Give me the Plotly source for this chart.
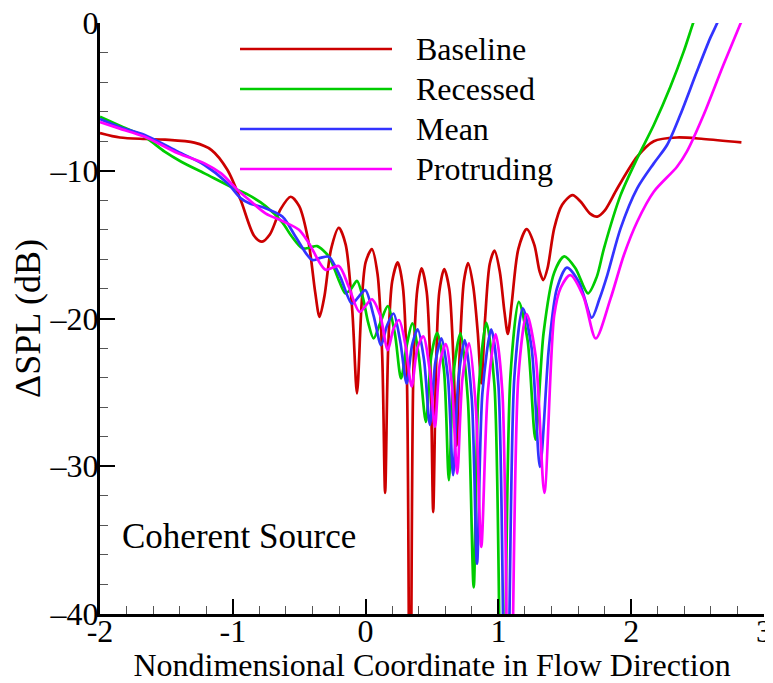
import plotly.graph_objects as go

# ---- data ----
baseline_x = [-2.0, -1.85, -1.66, -1.51, -1.29, -1.16, -1.04, -0.94, -0.84, -0.78, -0.72, -0.64, -0.564, -0.5, -0.43, -0.38, -0.347, -0.31, -0.26, -0.202, -0.15, -0.1, -0.065, -0.03, 0.0, 0.047, 0.09, 0.125, 0.147, 0.17, 0.2, 0.242, 0.28, 0.31, 0.335, 0.36, 0.39, 0.422, 0.46, 0.49, 0.509, 0.53, 0.555, 0.592, 0.63, 0.66, 0.685, 0.71, 0.74, 0.772, 0.81, 0.845, 0.871, 0.9, 0.935, 0.971, 1.01, 1.045, 1.071, 1.1, 1.15, 1.213, 1.27, 1.31, 1.338, 1.37, 1.42, 1.48, 1.558, 1.62, 1.69, 1.745, 1.80, 1.895, 2.045, 2.17, 2.345, 2.545, 2.83]
baseline_y = [-7.45, -7.75, -7.85, -7.9, -8.1, -8.6, -9.95, -12.0, -14.4, -14.8, -14.3, -12.6, -11.76, -12.4, -14.8, -18.2, -19.9, -18.5, -15.3, -13.86, -15.0, -19.5, -25.07, -19.0, -16.2, -15.3, -17.0, -22.5, -31.8, -22.0, -17.5, -16.2, -17.8, -23.5, -55.0, -23.5, -18.0, -16.6, -18.2, -24.0, -33.1, -23.5, -18.2, -16.65, -18.0, -22.5, -28.6, -22.0, -17.5, -16.25, -17.8, -21.0, -24.4, -20.0, -16.3, -15.4, -16.8, -19.5, -21.05, -19.0, -15.3, -13.95, -15.0, -16.8, -17.4, -16.6, -13.9, -12.3, -11.65, -12.1, -12.9, -13.1, -12.7, -11.2, -9.05, -8.0, -7.75, -7.85, -8.08]

recessed_x = [-2.0, -1.85, -1.663, -1.513, -1.388, -1.213, -0.989, -0.889, -0.751, -0.627, -0.56, -0.477, -0.42, -0.365, -0.277, -0.202, -0.152, -0.11, -0.065, -0.02, 0.02, 0.06, 0.11, 0.167, 0.22, 0.267, 0.31, 0.352, 0.4, 0.454, 0.495, 0.539, 0.59, 0.627, 0.665, 0.714, 0.77, 0.814, 0.85, 0.909, 0.97, 1.03, 1.09, 1.154, 1.22, 1.279, 1.34, 1.42, 1.496, 1.58, 1.675, 1.74, 1.795, 1.92, 2.045, 2.17, 2.295, 2.395, 2.47, 2.5]
recessed_y = [-6.35, -6.95, -7.7, -8.71, -9.39, -10.18, -11.2, -11.6, -12.4, -13.5, -14.4, -15.25, -15.2, -15.1, -15.8, -17.4, -18.3, -18.0, -17.45, -18.6, -20.3, -21.35, -20.3, -19.16, -21.0, -24.06, -21.8, -20.33, -22.5, -27.0, -22.5, -20.97, -23.5, -30.94, -23.5, -21.0, -25.5, -38.2, -25.0, -20.3, -24.5, -55.0, -24.0, -18.87, -21.5, -28.2, -21.0, -16.9, -15.8, -16.6, -18.3, -17.2, -15.25, -11.65, -9.16, -6.9, -4.31, -1.94, 0.09, 0.8]

mean_x = [-2.0, -1.85, -1.663, -1.413, -1.213, -1.039, -0.939, -0.876, -0.764, -0.627, -0.527, -0.44, -0.40, -0.34, -0.277, -0.19, -0.103, -0.05, -0.002, 0.06, 0.117, 0.16, 0.21, 0.26, 0.309, 0.35, 0.392, 0.44, 0.484, 0.525, 0.571, 0.62, 0.659, 0.70, 0.747, 0.80, 0.839, 0.88, 0.946, 1.0, 1.059, 1.12, 1.184, 1.25, 1.313, 1.38, 1.44, 1.516, 1.61, 1.703, 1.76, 1.82, 1.92, 2.045, 2.17, 2.27, 2.369, 2.494, 2.594, 2.652, 2.68]
mean_y = [-6.5, -7.05, -7.58, -8.71, -9.61, -10.85, -11.87, -12.2, -12.5, -13.1, -14.47, -15.7, -16.05, -15.9, -15.82, -17.2, -19.0, -18.5, -18.08, -19.8, -21.8, -20.5, -19.66, -21.5, -24.4, -21.8, -20.74, -22.8, -27.2, -23.0, -21.35, -24.0, -30.6, -24.0, -21.46, -25.5, -36.6, -25.0, -20.74, -24.5, -55.0, -24.0, -19.32, -22.0, -30.04, -22.0, -18.0, -16.56, -17.6, -19.95, -18.7, -17.06, -13.9, -11.19, -9.5, -8.26, -6.23, -3.3, -1.04, 0.09, 0.8]

protruding_x = [-2.0, -1.85, -1.663, -1.413, -1.213, -1.088, -0.964, -0.876, -0.751, -0.627, -0.502, -0.427, -0.302, -0.202, -0.127, -0.045, 0.047, 0.11, 0.167, 0.21, 0.252, 0.30, 0.347, 0.39, 0.434, 0.48, 0.522, 0.56, 0.604, 0.65, 0.69, 0.73, 0.779, 0.83, 0.871, 0.92, 0.979, 1.03, 1.084, 1.15, 1.213, 1.28, 1.346, 1.42, 1.47, 1.541, 1.64, 1.733, 1.845, 1.945, 2.045, 2.17, 2.345, 2.419, 2.545, 2.694, 2.824, 2.85]
protruding_y = [-6.7, -7.15, -7.7, -8.82, -9.5, -10.18, -11.3, -11.98, -12.9, -13.4, -14.0, -14.9, -16.7, -16.45, -17.85, -19.55, -18.7, -19.8, -22.14, -20.7, -20.1, -21.8, -24.6, -22.0, -21.2, -23.3, -27.33, -23.0, -21.73, -24.5, -30.5, -24.0, -21.69, -26.0, -35.46, -25.0, -21.06, -25.0, -55.0, -24.0, -19.7, -22.5, -31.8, -19.8, -17.9, -17.06, -18.5, -21.35, -18.64, -15.7, -13.45, -11.42, -9.73, -8.71, -6.23, -2.84, -0.02, 0.6]

series_names = ["Baseline", "Recessed", "Mean", "Protruding"]
series_colors = ["#CC0000", "#00CC00", "#3333FF", "#FF00FF"]
x_ticks = [-2, -1, 0, 1, 2, 3]
x_ticktext = ["-2", "-1", "0", "1", "2", "3"]
y_ticks = [-40, -30, -20, -10, 0]
y_ticktext = ["–40", "–30", "–20", "–10", "0"]

FONT = "Liberation Serif"

# the page body adds an 8 px offset; the figure is sized to fit the 773x683 window
OFF = 8
W, H = 773 - OFF, 683 - OFF
ML, MR, MT, MB = 100 - OFF, W - (764 - OFF), 23 - OFF, H - (614 - OFF)
PW, PH = W - ML - MR, H - MT - MB


def px_to_paper(px, py):
    fx, fy = px - OFF, py - OFF
    return (fx - ML) / PW, (H - MB - fy) / PH


fig = go.Figure()
for name, col, xs, ys in zip(
    series_names, series_colors,
    [baseline_x, recessed_x, mean_x, protruding_x],
    [baseline_y, recessed_y, mean_y, protruding_y],
):
    fig.add_trace(go.Scatter(
        x=xs, y=ys, mode="lines", name=name, showlegend=False,
        line=dict(color=col, width=2.7, shape="spline", smoothing=0.8),
    ))

axis_common = dict(
    showgrid=False, zeroline=False, showline=True, linecolor="black", linewidth=3,
    ticks="inside", ticklen=15, tickwidth=2, tickcolor="black",
    tickfont=dict(family=FONT, size=32, color="black"),
    mirror=False, automargin=False, ticklabeloverflow="allow",
)

fig.update_xaxes(
    range=[-2, 3], tickvals=x_ticks, ticktext=x_ticktext,
    ticklabelstandoff=-13,
    minor=dict(dtick=0.2, ticks="inside", ticklen=8, tickwidth=1, tickcolor="#555555"),
    title=dict(text="Nondimensional Coordinate in Flow Direction",
               font=dict(family=FONT, size=32, color="black"), standoff=0),
    **axis_common,
)
fig.update_yaxes(
    range=[-40, 0], tickvals=y_ticks, ticktext=y_ticktext,
    ticklabelstandoff=-8,
    minor=dict(dtick=2, ticks="inside", ticklen=8, tickwidth=1, tickcolor="#555555"),
    title=dict(text="ΔSPL (dB)", font=dict(family=FONT, size=36, color="black"), standoff=1),
    **axis_common,
)

# legend drawn as key lines + labels (positions in reference pixels)
legend_rows_py = [49, 89, 129, 169]
shapes = []
annotations = []
for name, col, py in zip(series_names, series_colors, legend_rows_py):
    x0, y0 = px_to_paper(240, py)
    x1, _ = px_to_paper(392, py)
    xt, _ = px_to_paper(414, py)
    shapes.append(dict(type="line", xref="paper", yref="paper", x0=x0, x1=x1, y0=y0, y1=y0,
                       line=dict(color=col, width=2.7)))
    annotations.append(dict(text=name, xref="paper", yref="paper", x=xt, y=y0,
                            xanchor="left", yanchor="middle", showarrow=False,
                            font=dict(family=FONT, size=32, color="black")))

cx, cy = px_to_paper(120, 536)
annotations.append(dict(
    text="Coherent Source", xref="paper", yref="paper",
    x=cx, y=cy, xanchor="left", yanchor="middle",
    showarrow=False, font=dict(family=FONT, size=35, color="black"),
))

fig.update_layout(
    width=W, height=H,
    margin=dict(l=ML, r=MR, t=MT, b=MB, autoexpand=False),
    plot_bgcolor="white", paper_bgcolor="white",
    font=dict(family=FONT, color="black"),
    showlegend=False,
    shapes=shapes,
    annotations=annotations,
)

fig.write_html("out.html")
